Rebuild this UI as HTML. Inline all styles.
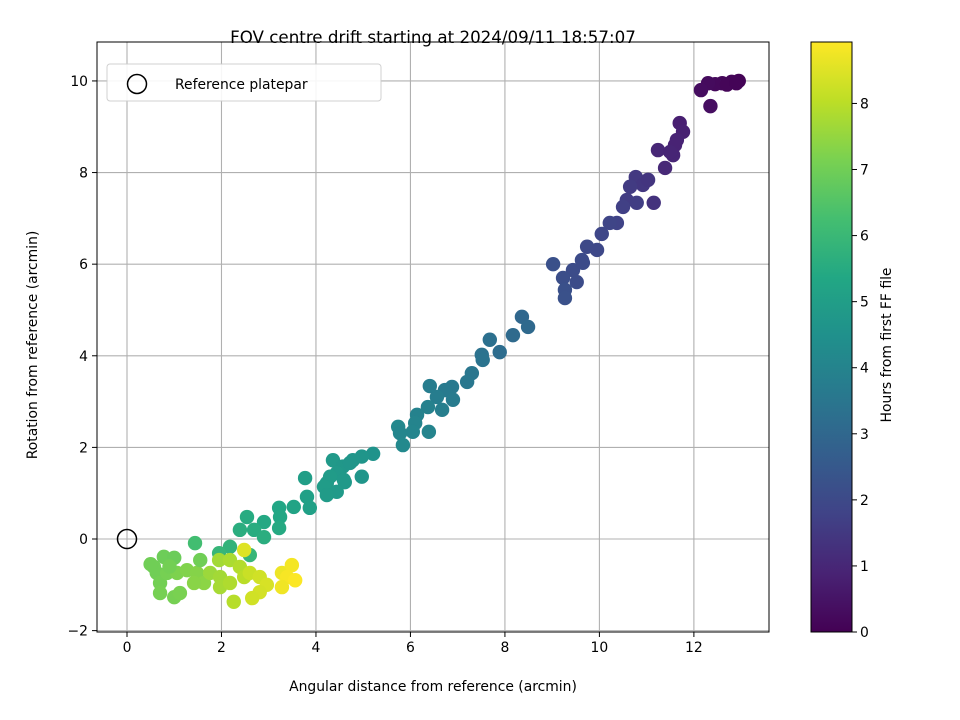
<!DOCTYPE html>
<html><head><meta charset="utf-8"><style>
body{margin:0;background:#fff}
svg{display:block;font-family:"DejaVu Sans","Liberation Sans",sans-serif}
</style></head><body>
<svg id="chart" width="960" height="720" viewBox="0 0 960 720" xmlns="http://www.w3.org/2000/svg">
<rect width="960" height="720" fill="#fff"/>
<text x="433" y="43" text-anchor="middle" font-size="16.7">FOV centre drift starting at 2024/09/11 18:57:07</text>
<g id="grid"></g>
<g id="points"></g>
<g id="axes"></g>
<text x="433" y="691" text-anchor="middle" font-size="13.9">Angular distance from reference (arcmin)</text>
<text transform="translate(37,345) rotate(-90)" text-anchor="middle" font-size="13.9">Rotation from reference (arcmin)</text>
<g>
<rect x="107" y="64" width="274" height="37" rx="3" fill="#fff" stroke="#ccc" opacity="0.9"/>
<circle cx="137" cy="84" r="9.5" fill="none" stroke="#000" stroke-width="1.5"/>
<text x="175" y="89" font-size="13.9">Reference platepar</text>
</g>
<defs><linearGradient id="vir" x1="0" y1="1" x2="0" y2="0"></linearGradient></defs>
<rect x="811" y="42" width="41" height="590" fill="url(#vir)" stroke="#000" stroke-width="1"/>
<g id="cbticks"></g>
<text transform="translate(891,345) rotate(-90)" text-anchor="middle" font-size="13.9">Hours from first FF file</text>
</svg>
<script>
const xTicks=[0,2,4,6,8,10,12];
const yTicks=[-2,0,2,4,6,8,10];
const cTicks=[0,1,2,3,4,5,6,7,8];
const xs=[12.95,12.8,12.6,12.45,12.3,12.15,12.35,12.7,12.9,
11.7,11.77,11.64,11.24,11.56,11.39,11.6,11.5,
10.77,10.92,10.65,10.58,10.79,10.5,11.15,11.03,10.37,10.22,10.05,9.74,9.95,9.63,9.02,9.44,9.23,9.52,9.27,9.27,9.65,
8.36,8.49,8.17,7.68,7.89,7.51,7.53,7.30,7.20,6.41,6.88,6.73,6.90,6.56,6.67,6.37,6.14,6.10,5.74,5.78,6.05,6.39,5.84,
5.21,4.97,4.78,4.36,4.57,4.44,4.97,3.77,4.61,4.23,4.72,4.30,4.59,4.17,4.44,4.23,3.81,3.87,3.22,3.53,3.24,3.22,2.90,2.54,2.39,2.69,2.90,2.18,1.95,2.60,1.44,
0.57,0.78,1.0,0.63,0.70,0.70,1.0,1.12,0.85,1.06,1.27,1.48,1.63,1.42,1.55,0.5,0.9,
1.76,1.95,1.97,1.97,2.18,2.18,2.39,2.48,2.26,2.48,
2.60,2.81,2.96,2.81,2.65,3.28,3.49,3.39,3.56,3.28];
const ys=[10.0,9.98,9.95,9.93,9.95,9.8,9.45,9.92,9.95,
9.08,8.89,8.71,8.49,8.38,8.10,8.6,8.45,
7.90,7.73,7.69,7.40,7.34,7.25,7.34,7.84,6.90,6.90,6.66,6.38,6.31,6.09,6.0,5.87,5.70,5.61,5.44,5.26,6.03,
4.85,4.63,4.45,4.35,4.08,4.02,3.91,3.62,3.43,3.34,3.32,3.25,3.04,3.10,2.82,2.88,2.71,2.53,2.45,2.31,2.34,2.34,2.05,
1.86,1.80,1.72,1.72,1.58,1.44,1.36,1.33,1.24,1.22,1.66,1.36,1.29,1.14,1.03,0.96,0.92,0.68,0.68,0.70,0.48,0.24,0.37,0.48,0.20,0.20,0.04,-0.17,-0.31,-0.35,-0.09,
-0.61,-0.39,-0.41,-0.74,-0.96,-1.18,-1.27,-1.18,-0.74,-0.74,-0.68,-0.74,-0.96,-0.96,-0.46,-0.55,-0.6,
-0.74,-0.46,-0.83,-1.05,-0.46,-0.96,-0.61,-0.83,-1.37,-0.24,
-0.74,-0.83,-1.0,-1.16,-1.29,-0.74,-0.57,-0.83,-0.90,-1.05];
const hours=[0.05,0.1,0.15,0.2,0.25,0.3,0.35,0.12,0.08,
0.8,0.85,0.9,1.0,0.95,1.05,0.9,0.95,
1.5,1.45,1.55,1.6,1.65,1.7,1.3,1.4,1.8,1.85,1.9,2.0,1.95,2.05,2.2,2.1,2.15,2.1,2.2,2.25,2.05,
3.0,3.05,3.1,3.3,3.2,3.35,3.4,3.5,3.55,3.75,3.6,3.65,3.7,3.75,3.8,3.9,3.95,4.0,4.15,4.1,4.05,4.0,4.2,
4.6,4.65,4.7,4.8,4.75,4.8,4.65,5.0,4.8,4.9,4.7,4.9,4.8,4.95,4.85,4.9,5.1,5.1,5.3,5.2,5.35,5.45,5.4,5.5,5.6,5.55,5.6,5.8,5.9,5.9,6.2,
7.0,6.95,6.9,7.0,7.05,7.1,7.1,7.15,7.1,7.2,7.25,7.3,7.4,7.35,7.0,7.0,7.05,
7.6,7.7,7.7,7.75,7.8,7.85,7.9,8.0,7.95,8.5,
8.2,8.3,8.4,8.35,8.3,8.7,8.8,8.85,8.9,8.75];
const NS="http://www.w3.org/2000/svg";
const L=97,R=769,T=42,B=632;
const xMin=-0.635,xMax=13.59,yMin=-2.03,yMax=10.85,cMax=8.93;
const sx=v=>L+(v-xMin)/(xMax-xMin)*(R-L);
const sy=v=>B-(v-yMin)/(yMax-yMin)*(B-T);
const sc=v=>B-v/cMax*(B-T);
const VIR=[[68,1,84],[72,35,116],[64,67,135],[52,94,141],[41,120,142],[32,144,140],[34,167,132],[68,190,112],[121,209,81],[189,222,38],[253,231,37]];
function vir(t){t=Math.max(0,Math.min(1,t))*10;const i=Math.min(9,Math.floor(t)),f=t-i;const a=VIR[i],b=VIR[i+1];return `rgb(${a.map((c,k)=>Math.round(c+(b[k]-c)*f)).join(',')})`;}
function mk(tag,at,parent){const e=document.createElementNS(NS,tag);for(const k in at)e.setAttribute(k,at[k]);parent.appendChild(e);return e;}
const grid=document.getElementById('grid'),axes=document.getElementById('axes'),pts=document.getElementById('points');
xTicks.forEach(v=>{
 const gl=mk('line',{x1:sx(v),x2:sx(v),y1:T,y2:B,stroke:'#b0b0b0','stroke-width':1.1},grid);
 
 
 mk('line',{x1:sx(v),x2:sx(v),y1:B,y2:B+5,stroke:'#000'},axes);
 const t=mk('text',{x:sx(v),y:B+20,'text-anchor':'middle','font-size':13.9},axes);t.textContent=v;
 
 
});
yTicks.forEach(v=>{
 const gl=mk('line',{x1:L,x2:R,y1:sy(v),y2:sy(v),stroke:'#b0b0b0','stroke-width':1.1},grid);
 
 
 mk('line',{x1:L-5,x2:L,y1:sy(v),y2:sy(v),stroke:'#000'},axes);
 const t=mk('text',{x:L-9,y:sy(v)+5,'text-anchor':'end','font-size':13.9},axes);t.textContent=v===-2?'\u22122':v;
 
 
});
mk('rect',{x:L,y:T,width:R-L,height:B-T,fill:'none',stroke:'#000','stroke-width':1},axes);
xs.forEach((x,i)=>{
 const c=mk('circle',{cx:sx(x),cy:sy(ys[i]),r:7.2,fill:vir(hours[i]/cMax)},pts);
 
 
});
const ref=mk('circle',{cx:sx(0),cy:sy(0),r:9.5,fill:'none',stroke:'#000','stroke-width':1.5},pts);


const grad=document.getElementById('vir');
VIR.forEach((c,i)=>mk('stop',{offset:(i/10),'stop-color':`rgb(${c.join(',')})`},grad));
const cb=document.getElementById('cbticks');
cTicks.forEach(v=>{
 mk('line',{x1:852,x2:857,y1:sc(v),y2:sc(v),stroke:'#000'},cb);
 const t=mk('text',{x:860,y:sc(v)+5,'font-size':13.9},cb);t.textContent=v;
 
 
});
</script>
</body></html>
